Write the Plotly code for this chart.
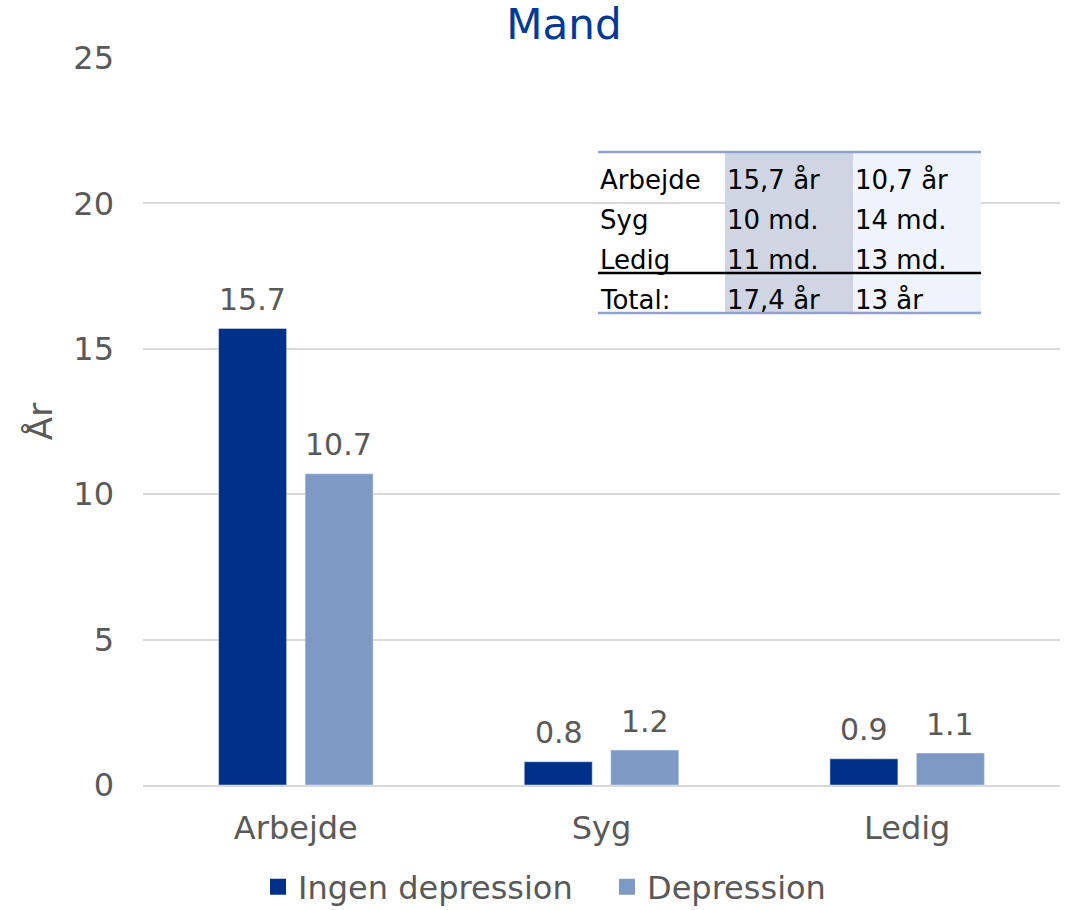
import plotly.graph_objects as go

categories = ["Arbejde", "Syg", "Ledig"]
ingen_depression = [15.7, 0.8, 0.9]
depression = [10.7, 1.2, 1.1]
series_names = ["Ingen depression", "Depression"]

table_rows = ["Arbejde", "Syg", "Ledig", "Total:"]
table_ingen = ["15,7 år", "10 md.", "11 md.", "17,4 år"]
table_dep = ["10,7 år", "14 md.", "13 md.", "13 år"]

FONT = "DejaVu Sans"
GRAY = "#595959"
DARK = "#003087"
LIGHT = "#7f99c5"
colors = [DARK, LIGHT]

FIG_W, FIG_H = 1071, 910
L, R, T, B = 143, 1060, 58, 785  # plot area in page pixels
W, H = R - L, B - T
def px(x):
    return (x - L) / W
def py(y):
    return (B - y) / H

fig = go.Figure()
for name, vals, col in zip(series_names, [ingen_depression, depression], colors):
    fig.add_trace(go.Bar(x=categories, y=vals, name=name, marker_color=col,
                         showlegend=False))
    fig.add_trace(go.Scatter(x=[None], y=[None], mode="markers", name=name,
                             marker=dict(symbol="square", size=20, color=col)))

annotations = []
for vals, shift in zip([ingen_depression, depression], [-43, 43]):
    for c, v in zip(categories, vals):
        annotations.append(dict(xref="x", yref="y", x=c, y=v, text=f"{v:.1f}",
                                showarrow=False, xshift=shift, yshift=29,
                                xanchor="center", yanchor="middle",
                                font=dict(size=30, color=GRAY, family=FONT)))

col_edges = [598, 725, 853, 981]
row_centers = [178, 218, 258, 298]
shapes = []
shapes.append(dict(type="rect", xref="paper", yref="paper", x0=px(725), x1=px(853),
                   y0=py(313), y1=py(152), fillcolor="#cfd5e2", line_width=0, layer="above"))
shapes.append(dict(type="rect", xref="paper", yref="paper", x0=px(853), x1=px(981),
                   y0=py(313), y1=py(152), fillcolor="#eef3fc", line_width=0, layer="above"))
shapes.append(dict(type="line", xref="paper", yref="paper", x0=px(598), x1=px(981),
                   y0=py(152), y1=py(152), line=dict(color="#8ea4cf", width=2.5)))
shapes.append(dict(type="line", xref="paper", yref="paper", x0=px(598), x1=px(981),
                   y0=py(313), y1=py(313), line=dict(color="#8ea4cf", width=2.5)))
shapes.append(dict(type="line", xref="paper", yref="paper", x0=px(598), x1=px(981),
                   y0=py(273), y1=py(273), line=dict(color="black", width=2.5)))

for i in range(4):
    yc = py(row_centers[i] + 2)
    for j, txt in enumerate([table_rows[i], table_ingen[i], table_dep[i]]):
        annotations.append(dict(xref="paper", yref="paper", x=px(col_edges[j]), y=yc,
                                text=txt, showarrow=False, xanchor="left", yanchor="middle",
                                font=dict(size=26, color="black", family=FONT)))

fig.update_layout(
    width=FIG_W, height=FIG_H,
    margin=dict(l=L, r=FIG_W - R, t=T, b=FIG_H - B, autoexpand=False),
    paper_bgcolor="white", plot_bgcolor="white",
    font=dict(family=FONT, color=GRAY),
    title=dict(text="Mand", x=564 / FIG_W, xanchor="center",
               y=1 - 24 / FIG_H, yanchor="middle",
               font=dict(size=42, color="#003a96", family=FONT)),
    barmode="group", bargap=0.434, bargroupgap=0.214,
    xaxis=dict(showgrid=False, showline=True, linecolor="#d9d9d9", linewidth=1.5,
               tickfont=dict(size=32, color=GRAY), ticks="", automargin=False,
               ticklabelstandoff=14),
    yaxis=dict(range=[0, 25], dtick=5, showgrid=True, gridcolor="#d9d9d9", gridwidth=1.5,
               zeroline=False, tickfont=dict(size=32, color=GRAY), ticks="", automargin=False,
               ticklabelstandoff=28,
               title=dict(text="År", font=dict(size=34, color=GRAY), standoff=10)),
    legend=dict(orientation="h", x=px(258), xanchor="left", y=py(887), yanchor="middle",
                font=dict(size=32, color=GRAY), itemwidth=30, tracegroupgap=0,
                entrywidth=304, entrywidthmode="pixels"),
    shapes=shapes, annotations=annotations,
)

fig.write_html("out.html", config={"displayModeBar": False},
               post_script="document.body.style.margin='0px';")
